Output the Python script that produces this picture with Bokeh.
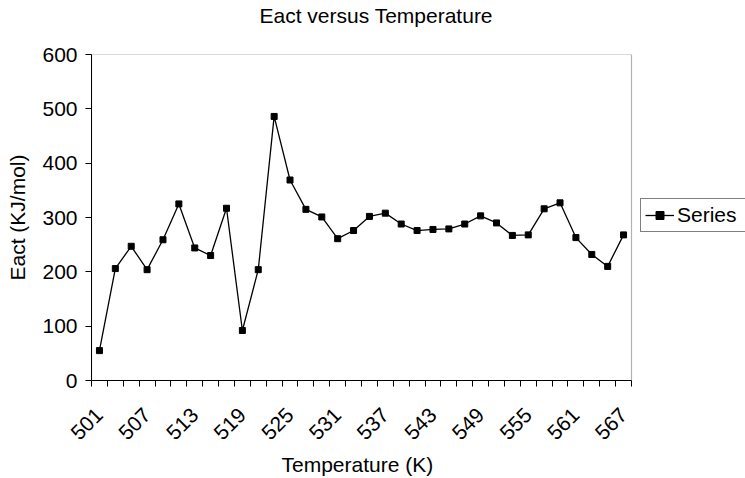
import math
from bokeh.plotting import figure
from bokeh.models import (Range1d, FixedTicker, Legend, LegendItem, Title,
                          BoxAnnotation)
from bokeh.embed import file_html
from bokeh.resources import INLINE

# ---- data ----
temperature = list(range(501, 569, 2))          # K, one category every 2 K
eact = [55, 206, 247, 204, 259, 325, 244, 230, 317, 92,
        204, 486, 369, 315, 301, 261, 276, 302, 308, 288,
        276, 278, 279, 288, 303, 290, 267, 268, 316, 327,
        263, 232, 210, 268]                      # KJ/mol
x_tick_labels = list(range(501, 568, 6))
x_category_edges = list(range(500, 569, 2))
y_ticks = [0, 100, 200, 300, 400, 500, 600]

X_MIN, X_MAX = 500, 568          # plot-box limits (category edges)
Y_MIN, Y_MAX = 0, 600

FONT = "Liberation Sans"
FS = "21px"

# the frame runs on to the right edge so that the legend can sit beside the box
BOX_W, RIGHT_PAD = 540, 114
x_end = X_MAX + (X_MAX - X_MIN) * RIGHT_PAD / BOX_W

p = figure(width=745, height=478, output_backend="svg", toolbar_location=None,
           x_range=Range1d(X_MIN, x_end), y_range=Range1d(Y_MIN, Y_MAX),
           min_border_left=91, min_border_right=0,
           min_border_top=54, min_border_bottom=98)

p.title.text = ""
spacer = Title(text=" ", text_font_size="23px", standoff=0)
main_title = Title(text="Eact versus Temperature", align="left", offset=168,
                   standoff=0, text_font=FONT, text_font_size=FS,
                   text_font_style="normal", text_color="black")
p.add_layout(spacer, "above")
p.add_layout(main_title, "above")

p.xgrid.visible = False
p.ygrid.visible = False
p.outline_line_color = None
p.background_fill_color = "white"
p.border_fill_color = "white"

# plot box
p.add_layout(BoxAnnotation(left=X_MIN, right=X_MAX, bottom=Y_MIN, top=Y_MAX,
                           fill_alpha=0, line_color="black", line_width=1.2))

# x axis
xa = p.xaxis[0]
xa.bounds = (X_MIN, X_MAX)
xa.ticker = FixedTicker(ticks=x_tick_labels, minor_ticks=x_category_edges)
xa.major_tick_out = 0
xa.major_tick_in = 0
xa.minor_tick_out = 6
xa.minor_tick_in = 0
xa.minor_tick_line_color = "black"
xa.major_label_orientation = math.pi / 4
xa.major_label_standoff = 25
xa.major_label_text_font = FONT
xa.major_label_text_font_size = FS
xa.major_label_text_color = "black"
xa.axis_line_color = "black"

# x axis title, centred under the plot box
x_title = Title(text="Temperature (K)", align="left", offset=190, standoff=2,
                text_font=FONT, text_font_size=FS, text_font_style="normal",
                text_color="black")
p.add_layout(x_title, "below")

# y axis
ya = p.yaxis[0]
ya.ticker = FixedTicker(ticks=y_ticks)
ya.major_tick_out = 6
ya.major_tick_in = 0
ya.minor_tick_out = 0
ya.minor_tick_in = 0
ya.major_tick_line_color = "black"
ya.major_label_standoff = 8
ya.axis_label = "Eact (KJ/mol)"
ya.axis_label_standoff = 10
ya.axis_label_text_font = FONT
ya.axis_label_text_font_size = FS
ya.axis_label_text_font_style = "normal"
ya.axis_label_text_color = "black"
ya.major_label_text_font = FONT
ya.major_label_text_font_size = FS
ya.major_label_text_color = "black"
ya.axis_line_color = "black"

line = p.line(temperature, eact, line_color="black", line_width=1.3)
pts = p.scatter(temperature, eact, marker="square", size=6,
                fill_color="black", line_color="black")

legend = Legend(items=[LegendItem(label="Series", renderers=[line, pts])],
                location=(549, 148))
legend.border_line_color = "black"
legend.border_line_width = 1
legend.background_fill_color = "white"
legend.background_fill_alpha = 1
legend.label_text_font = FONT
legend.label_text_font_size = FS
legend.label_text_color = "black"
legend.glyph_width = 29
legend.glyph_height = 20
legend.label_height = 20
legend.label_standoff = 3
legend.label_width = 80
legend.padding = 4
legend.spacing = 0
legend.margin = 0
p.add_layout(legend)

open("out.html", "w").write(file_html(p, INLINE))
